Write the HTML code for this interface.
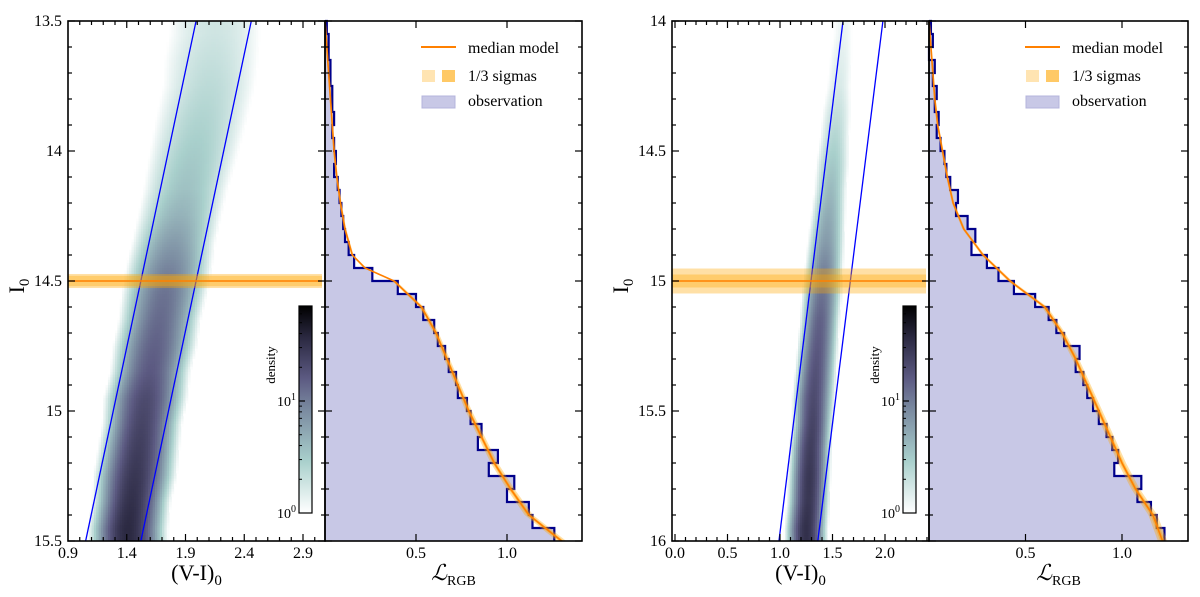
<!DOCTYPE html>
<html><head><meta charset="utf-8"><style>
html,body{margin:0;padding:0;background:#fff;}
svg{display:block;font-family:"Liberation Serif","DejaVu Serif",serif;}
</style></head><body>
<svg id="fig" width="1200" height="597" viewBox="0 0 1200 597" xmlns="http://www.w3.org/2000/svg">
<defs>
<linearGradient id="cbgrad" x1="0" y1="1" x2="0" y2="0">
<stop offset="0" stop-color="#ffffff"/><stop offset="0.25" stop-color="#a9d0cc"/><stop offset="0.5" stop-color="#7a8aa0"/><stop offset="0.65" stop-color="#5c5a82"/><stop offset="0.85" stop-color="#2a2840"/><stop offset="1" stop-color="#000000"/>
</linearGradient>
</defs>
<g id="root"></g>
</svg>
<script>
// ---------- DATA ----------
const leftRowMags = [13.55,13.65,13.75,13.85,13.95,14.05,14.15,14.25,14.35,14.45,14.55,14.65,14.75,14.85,14.95,15.05,15.15,15.25,15.35,15.45];
const leftRowColor = [2.15,2.12,2.10,2.05,2.00,1.95,1.90,1.85,1.80,1.76,1.72,1.68,1.64,1.60,1.56,1.53,1.50,1.47,1.44,1.41];
const leftRowWidth = [0.35,0.33,0.30,0.28,0.26,0.24,0.22,0.20,0.18,0.17,0.16,0.15,0.15,0.14,0.14,0.13,0.13,0.13,0.12,0.12];
const leftRowPeak = [0.25,0.30,0.35,0.40,0.45,0.50,0.55,0.65,0.80,0.95,1.05,1.10,1.15,1.20,1.30,1.35,1.40,1.45,1.50,1.55];
const leftModelMags = [13.5,13.6,13.7,13.8,13.9,14.0,14.1,14.2,14.3,14.4,14.45,14.5,14.6,14.7,14.8,14.9,15.0,15.1,15.2,15.3,15.4,15.5];
const leftModelL = [0.0,0.01,0.02,0.03,0.04,0.05,0.065,0.085,0.11,0.15,0.22,0.38,0.53,0.61,0.67,0.73,0.79,0.86,0.93,1.02,1.12,1.30];
const leftObsStart = 13.5, leftObsStep = 0.05;
const leftObs = [0.01,0.02,0.02,0.03,0.03,0.04,0.04,0.05,0.04,0.05,0.06,0.05,0.07,0.08,0.09,0.10,0.11,0.13,0.16,0.26,0.40,0.50,0.54,0.60,0.62,0.66,0.68,0.72,0.73,0.78,0.80,0.86,0.84,0.95,0.90,1.04,1.00,1.12,1.14,1.26];
const leftTRGB = 14.5, leftSig1 = 0.02, leftSig3 = 0.027;
const leftColorTicks = ["0.9","1.4","1.9","2.4","2.9"];
const leftMagTicks = ["13.5","14","14.5","15","15.5"];
const leftBoxTop = [1.99,2.46], leftBoxBot = [1.05,1.52];

const rightRowMags = [14.05,14.15,14.25,14.35,14.45,14.55,14.65,14.75,14.85,14.95,15.05,15.15,15.25,15.35,15.45,15.55,15.65,15.75,15.85,15.95];
const rightRowColor = [1.60,1.58,1.56,1.54,1.52,1.50,1.48,1.46,1.44,1.42,1.40,1.38,1.36,1.34,1.32,1.31,1.29,1.28,1.27,1.25];
const rightRowWidth = [0.12,0.12,0.11,0.11,0.10,0.10,0.09,0.09,0.09,0.085,0.085,0.08,0.08,0.08,0.08,0.075,0.075,0.075,0.075,0.075];
const rightRowPeak = [0.10,0.15,0.20,0.30,0.40,0.50,0.60,0.70,0.80,0.95,1.05,1.15,1.20,1.25,1.30,1.35,1.40,1.45,1.45,1.50];
const rightModelMags = [14.0,14.1,14.2,14.3,14.4,14.5,14.6,14.7,14.8,14.9,15.0,15.1,15.2,15.3,15.4,15.5,15.6,15.7,15.8,15.9,16.0];
const rightModelL = [0.0,0.01,0.02,0.03,0.045,0.07,0.095,0.125,0.18,0.28,0.42,0.60,0.69,0.76,0.82,0.88,0.94,1.0,1.07,1.16,1.21];
const rightObsStart = 14.0, rightObsStep = 0.05;
const rightObs = [0.01,0.02,0.00,0.03,0.02,0.04,0.03,0.05,0.04,0.06,0.08,0.09,0.11,0.15,0.14,0.20,0.24,0.22,0.30,0.36,0.44,0.55,0.62,0.66,0.70,0.78,0.76,0.80,0.82,0.85,0.88,0.92,0.95,0.98,0.96,1.10,1.08,1.15,1.18,1.22];
const rightTRGB = 15.0, rightSig1 = 0.025, rightSig3 = 0.048;
const rightColorTicks = ["0.0","0.5","1.0","1.5","2.0"];
const rightMagTicks = ["14","14.5","15","15.5","16"];
const rightBoxTop = [1.60,1.98], rightBoxBot = [0.99,1.36];
const lfTicks = ["0.5","1.0"];

// ---------- RENDER ----------
const NS="http://www.w3.org/2000/svg";
const root=document.getElementById('root');
function el(tag,attrs,parent){const e=document.createElementNS(NS,tag);for(const k in attrs)e.setAttribute(k,attrs[k]);(parent||root).appendChild(e);return e;}
function interp(xs,ys,x){if(x<=xs[0])return ys[0];for(let i=1;i<xs.length;i++){if(x<=xs[i]){const t=(x-xs[i-1])/(xs[i]-xs[i-1]);return ys[i-1]+t*(ys[i]-ys[i-1]);}}return ys[ys.length-1];}
const cstops=[[0,[255,255,255]],[0.25,[169,208,204]],[0.5,[122,138,160]],[0.65,[92,90,130]],[0.85,[42,40,64]],[1,[0,0,0]]];
function cmap(t){t=Math.max(0,Math.min(1,t));for(let i=1;i<cstops.length;i++){if(t<=cstops[i][0]){const a=cstops[i-1],b=cstops[i];const u=(t-a[0])/(b[0]-a[0]);const c=a[1].map((v,j)=>Math.round(v+u*(b[1][j]-v)));return `rgb(${c[0]},${c[1]},${c[2]})`;}}return '#000';}

function buildFigure(o){
  const g=el('g',{});
  
  
  const X=c=>o.cx0+(c-o.cVal0)*o.cScale;
  const Y=m=>o.top+(m-o.mTop)*o.mScale;
  const bottom=Y(o.mBot);
  const dens=el('g',{},g);
  
  
  const cMin=o.cVal0+(o.left-o.cx0)/o.cScale, cMax=o.cVal0+(o.mid-o.cx0)/o.cScale;
  const dc=0.02, dm=0.01;
  for(let m=o.mTop;m<o.mBot-1e-9;m+=dm){
    const mc=m+dm/2;
    const c0=interp(o.rowMags,o.rowColor,mc),w=interp(o.rowMags,o.rowWidth,mc),pk=interp(o.rowMags,o.rowPeak,mc);
    for(let c=cMin;c<cMax-1e-9;c+=dc){
      const cc=c+dc/2, d=(cc-c0)/w;
      const D=Math.pow(10,pk)*Math.exp(-0.5*d*d)+Math.pow(10,pk-1.6)*Math.exp(-0.5*d*d/6);
      if(D<1.0)continue;
      el('rect',{x:X(c).toFixed(2),y:Y(m).toFixed(2),width:(dc*o.cScale+0.4).toFixed(2),height:(dm*o.mScale+0.4).toFixed(2),fill:cmap(Math.log10(D)/1.85)},dens);
    }
  }
  [[o.boxTop[0],o.boxBot[0]],[o.boxTop[1],o.boxBot[1]]].forEach((p,i)=>{
    const l=el('line',{x1:X(p[0]),y1:o.top,x2:X(p[1]),y2:bottom,stroke:'#0000ff','stroke-width':1.3},g);
    
    
  });
  const b3=el('rect',{x:o.left,y:Y(o.trgb-o.sig3),width:o.mid-o.left-3,height:(2*o.sig3*o.mScale),fill:'#ffa500','fill-opacity':0.35},g);
  
  
  const b1=el('rect',{x:o.left,y:Y(o.trgb-o.sig1),width:o.mid-o.left-3,height:(2*o.sig1*o.mScale),fill:'#ffa500','fill-opacity':0.35},g);
  
  
  const tl=el('line',{x1:o.left,x2:o.mid-3,y1:Y(o.trgb),y2:Y(o.trgb),stroke:'#ff8000','stroke-width':1.5},g);
  
  
  const LX=L=>o.mid+L*o.lScale;
  let pts=`${o.mid},${o.top} `;
  let pathD=`M${o.mid},${o.top}`;
  o.obs.forEach((v,i)=>{const m0=o.obsStart+i*o.obsStep,m1=m0+o.obsStep;const x=LX(v);pts+=`${x},${Y(m0)} ${x},${Y(m1)} `;pathD+=` L${x},${Y(m0)} L${x},${Y(m1)}`;});
  pts+=`${o.mid},${bottom}`;
  const fillP=el('polygon',{points:pts,fill:'#c8c8e6'},g);
  
  
  const hist=el('path',{d:pathD,fill:'none',stroke:'#00008b','stroke-width':2.2,'stroke-linejoin':'miter'},g);
  
  
  [[0.016,0.35],[0.008,0.45]].forEach((s,k)=>{
    let a=[],b=[];
    o.modelMags.forEach((m,i)=>{const L=o.modelL[i];a.push(`${LX(L+s[0]*(0.3+L))},${Y(m)}`);b.unshift(`${LX(Math.max(0,L-s[0]*(0.3+L)))},${Y(m)}`);});
    const p=el('polygon',{points:a.concat(b).join(' '),fill:'#ffa500','fill-opacity':s[1]},g);
    
    
  });
  const ml=el('polyline',{points:o.modelMags.map((m,i)=>`${LX(o.modelL[i])},${Y(m)}`).join(' '),fill:'none',stroke:'#ff8000','stroke-width':1.6},g);
  
  
  const cb=el('rect',{x:o.cbx,y:306,width:13,height:207,fill:'url(#cbgrad)',stroke:'#000','stroke-width':1.2},g);
  
  
  const cbY=v=>513-Math.log10(v)*112;
  [2,3,4,5,6,7,8,9,20,30,40,50,60].forEach(v=>{if(cbY(v)>307)el('line',{x1:o.cbx,x2:o.cbx+3,y1:cbY(v),y2:cbY(v),stroke:'#000','stroke-width':1},g);});
  el('line',{x1:o.cbx,x2:o.cbx+6,y1:cbY(10),y2:cbY(10),stroke:'#000','stroke-width':1.2},g);
  [['10','1',cbY(10)],['10','0',513]].forEach(t=>{
    const tx=el('text',{x:o.cbx-3,y:t[2]+5,'font-size':14,'text-anchor':'end'},g);
    tx.textContent=t[0];
    const sp=el('tspan',{'font-size':10,dy:-6},tx);sp.textContent=t[1];
    
    
  });
  const dl=el('text',{x:0,y:0,'font-size':13,'text-anchor':'middle',transform:`translate(${o.cbx-24},365) rotate(-90)`},g);
  dl.textContent='density';
  
  
  const f1=el('rect',{x:o.left,y:o.top,width:o.mid-o.left,height:bottom-o.top,fill:'none',stroke:'#000','stroke-width':1.6},g);
  
  
  const f2=el('rect',{x:o.mid,y:o.top,width:o.right-o.mid,height:bottom-o.top,fill:'none',stroke:'#000','stroke-width':1.6},g);
  
  
  const tk=(x1,y1,x2,y2,w)=>el('line',{x1,y1,x2,y2,stroke:'#000','stroke-width':w||1.2},g);
  for(let k=0;k<60;k++){const c=Math.round((o.cTick0-1)*10+k)/10;const x=X(c);if(x<o.left+1||x>o.mid-1)continue;
    const isMaj=o.colorTicks.some(t=>Math.abs(parseFloat(t)-c)<1e-6);const L=isMaj?7:4;
    tk(x,bottom,x,bottom-L);tk(x,o.top,x,o.top+L);}
  o.colorTicks.forEach(t=>{const tx=el('text',{x:X(parseFloat(t)),y:bottom+17,'font-size':16,'text-anchor':'middle'},g);tx.textContent=t;
    
    });
  for(let m=o.mTop;m<=o.mBot+1e-6;m+=0.1){const y=Y(m);const maj=Math.abs(m*2-Math.round(m*2))<1e-6;const L=maj?7:4;
    tk(o.left,y,o.left+L,y);tk(o.mid-L,y,o.mid+L,y);tk(o.right-L,y,o.right,y);}
  o.magTicks.forEach(t=>{const tx=el('text',{x:o.left-6,y:Y(parseFloat(t))+5,'font-size':16,'text-anchor':'end'},g);tx.textContent=t;
    
    });
  lfTicks.forEach(t=>{const x=LX(parseFloat(t));tk(x,bottom,x,bottom-7);tk(x,o.top,x,o.top+7);
    const tx=el('text',{x,y:bottom+17,'font-size':16,'text-anchor':'middle'},g);tx.textContent=t;
    
    });
  const yt=el('text',{x:0,y:0,'font-size':22,'text-anchor':'middle',transform:`translate(${o.left-44},${Y((o.mTop+o.mBot)/2)+5}) rotate(-90)`},g);
  yt.textContent='I';const ys=el('tspan',{'font-size':15,dy:5},yt);ys.textContent='0';
  
  
  const xt=el('text',{x:(o.left+o.mid)/2,y:580,'font-size':22,'text-anchor':'middle'},g);
  xt.textContent='(V-I)';const xs=el('tspan',{'font-size':15,dy:5},xt);xs.textContent='0';
  
  
  const lt=el('text',{x:(o.mid+o.right)/2,y:580,'font-size':22,'text-anchor':'middle'},g);
  const lsp=el('tspan',{'font-family':'DejaVu Serif, serif','font-style':'italic'},lt);lsp.textContent='ℒ';
  const ls=el('tspan',{'font-size':14,dy:5},lt);ls.textContent='RGB';
  
  
  const lg=el('g',{},g);
  
  
  const lx=o.legX;
  el('line',{x1:lx,x2:lx+35,y1:47,y2:47,stroke:'#ff8000','stroke-width':2},lg);
  el('rect',{x:lx+1,y:70,width:13,height:12,fill:'#ffa500','fill-opacity':0.3},lg);
  el('rect',{x:lx+21,y:70,width:13,height:12,fill:'#ffa500','fill-opacity':0.6},lg);
  el('rect',{x:lx+1,y:96,width:33,height:12,fill:'#c8c8e6',stroke:'#b4b4dc','stroke-width':1},lg);
  [['median model',53],['1/3 sigmas',81],['observation',106]].forEach(t=>{const tx=el('text',{x:lx+47,y:t[1],'font-size':16},lg);tx.textContent=t[0];
    
    });
}

buildFigure({name:'left-figure',left:68,mid:325,right:582,top:21,cx0:68,cVal0:0.9,cScale:117.5,cTick0:0.9,mTop:13.5,mBot:15.5,mScale:260,
  rowMags:leftRowMags,rowColor:leftRowColor,rowWidth:leftRowWidth,rowPeak:leftRowPeak,boxTop:leftBoxTop,boxBot:leftBoxBot,
  trgb:leftTRGB,sig1:leftSig1,sig3:leftSig3,lScale:182,obs:leftObs,obsStart:leftObsStart,obsStep:leftObsStep,
  modelMags:leftModelMags,modelL:leftModelL,cbx:299,colorTicks:leftColorTicks,magTicks:leftMagTicks,legX:421});
buildFigure({name:'right-figure',left:672,mid:929,right:1188,top:21,cx0:675,cVal0:0,cScale:105,cTick0:0,mTop:14,mBot:16,mScale:260,
  rowMags:rightRowMags,rowColor:rightRowColor,rowWidth:rightRowWidth,rowPeak:rightRowPeak,boxTop:rightBoxTop,boxBot:rightBoxBot,
  trgb:rightTRGB,sig1:rightSig1,sig3:rightSig3,lScale:193,obs:rightObs,obsStart:rightObsStart,obsStep:rightObsStep,
  modelMags:rightModelMags,modelL:rightModelL,cbx:903,colorTicks:rightColorTicks,magTicks:rightMagTicks,legX:1025});
</script>
</body></html>
